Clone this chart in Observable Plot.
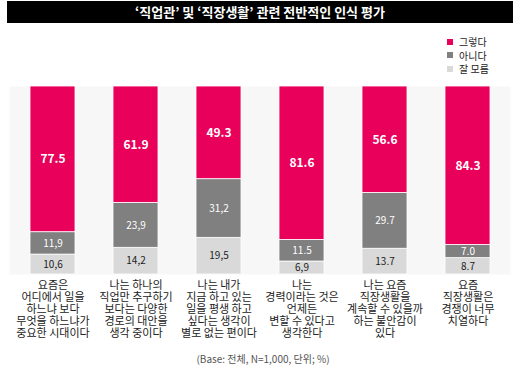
<!DOCTYPE html>
<html><head><meta charset="utf-8">
<script src="https://cdn.jsdelivr.net/npm/d3@7"></script>
<script src="https://cdn.jsdelivr.net/npm/@observablehq/plot@0.6"></script>
<style>
body{margin:0;background:#fff;font-family:"Noto Sans CJK KR","Noto Sans",sans-serif;}
#wrap{position:relative;width:520px;height:373px;overflow:hidden;}
#title{position:absolute;left:7px;top:1px;width:506px;height:22px;background:#000;color:#fff;font-size:13px;font-weight:bold;text-align:center;line-height:22px;}
#legend{position:absolute;left:447px;top:35px;font-size:10px;color:#222;}
#legend div{height:13.5px;line-height:13.5px;display:flex;align-items:center;}
#legend span.sw{display:inline-block;width:6px;height:6px;margin-right:6px;}
#chart{position:absolute;left:0;top:80px;}
#caption{position:absolute;left:0;width:526px;top:351px;text-align:center;font-size:10px;color:#555;}
</style></head>
<body><div id="wrap">
<div id="title">‘직업관’ 및 ‘직장생활’ 관련 전반적인 인식 평가</div>
<div id="legend"></div>
<div id="chart"></div>
<div id="caption">(Base: 전체, N=1,000, 단위; %)</div>
</div>
<script>
const categories = [
  "요즘은\n어디에서 일을\n하느냐 보다\n무엇을 하느냐가\n중요한 시대이다",
  "나는 하나의\n직업만 추구하기\n보다는 다양한\n경로의 대안을\n생각 중이다",
  "나는 내가\n지금 하고 있는\n일을 평생 하고\n싶다는 생각이\n별로 없는 편이다",
  "나는\n경력이라는 것은\n언제든\n변할 수 있다고\n생각한다",
  "나는 요즘\n직장생활을\n계속할 수 있을까\n하는 불안감이\n있다",
  "요즘\n직장생활은\n경쟁이 너무\n치열하다"
];
const seriesNames = ["잘 모름", "아니다", "그렇다"];
const seriesColors = ["#d9d9d9", "#808080", "#e8005a"];
const yesValues = [77.5, 61.9, 49.3, 81.6, 56.6, 84.3];
const noValues = [11.9, 23.9, 31.2, 11.5, 29.7, 7.0];
const dkValues = [10.6, 14.2, 19.5, 6.9, 13.7, 8.7];
const yesLabels = ["77.5", "61.9", "49.3", "81.6", "56.6", "84.3"];
const noLabels = ["11,9", "23,9", "31,2", "11.5", "29.7", "7.0"];
const dkLabels = ["10,6", "14,2", "19,5", "6,9", "13.7", "8.7"];

const rows = [];
categories.forEach((c, i) => {
  rows.push({cat: c, key: "잘 모름", value: dkValues[i], label: dkLabels[i]});
  rows.push({cat: c, key: "아니다", value: noValues[i], label: noLabels[i]});
  rows.push({cat: c, key: "그렇다", value: yesValues[i], label: yesLabels[i]});
});

const legend = document.getElementById("legend");
[2, 1, 0].forEach(i => {
  const d = document.createElement("div");
  d.innerHTML = `<span class="sw" style="background:${seriesColors[i]}"></span>${seriesNames[i]}`;
  legend.appendChild(d);
});

const textStyle = {
  "그렇다": {fill: "white", fontSize: 12, fontWeight: "bold"},
  "아니다": {fill: "white", fontSize: 10, fontWeight: "normal"},
  "잘 모름": {fill: "#222", fontSize: 10, fontWeight: "normal"}
};

const plot = Plot.plot({
  width: 520,
  height: 265,
  marginTop: 6,
  marginBottom: 71,
  marginLeft: 9,
  marginRight: 10,
  style: {fontFamily: '"Noto Sans CJK KR", "Noto Sans", sans-serif', background: "transparent"},
  x: {domain: categories, paddingInner: 0.46, paddingOuter: 0.225, label: null},
  y: {domain: [0, 100], axis: null},
  color: {domain: seriesNames, range: seriesColors},
  marks: [
    Plot.frame({fill: "#f7f7f7", stroke: null}),
    Plot.barY(rows, {x: "cat", y: "value", fill: "key", z: "key", stroke: "white", strokeWidth: 0.8}),
    ...seriesNames.map(k => Plot.text(rows, Plot.stackY({
      x: "cat", y: "value", z: "key", text: d => d.key === k ? d.label : null,
      fill: textStyle[k].fill, fontSize: textStyle[k].fontSize, fontWeight: textStyle[k].fontWeight
    }))),
    Plot.axisX({tickSize: 0, tickPadding: 6, fontSize: 11, lineHeight: 1.1, fill: "#222", label: null})
  ]
});
document.getElementById("chart").appendChild(plot);
</script>
</body></html>
